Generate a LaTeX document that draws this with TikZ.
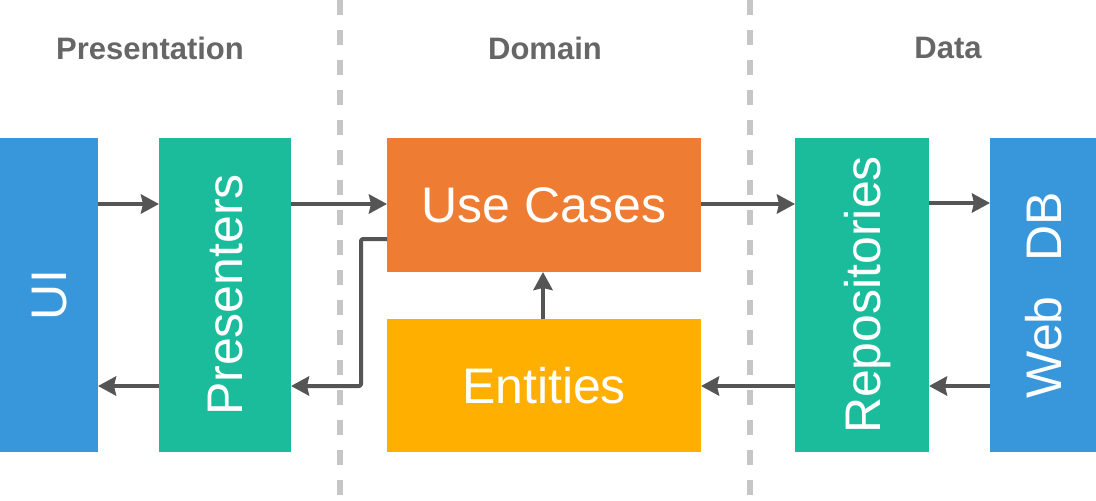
\documentclass[tikz,border=0pt]{standalone}
\usepackage{fontspec}
\setmainfont{Liberation Sans}
\usetikzlibrary{arrows.meta}
\definecolor{cblue}{HTML}{3897DB}
\definecolor{cteal}{HTML}{1ABC9C}
\definecolor{corange}{HTML}{EE7D33}
\definecolor{cyellow}{HTML}{FFAF00}
\definecolor{carrow}{HTML}{555555}
\definecolor{cdash}{HTML}{C6C6C6}
\definecolor{chead}{HTML}{666666}
\begin{document}
\begin{tikzpicture}[x=1pt,y=-1pt,
  box/.style={draw=none, inner sep=0pt, outer sep=0pt, anchor=north west},
  lbl/.style={inner sep=0pt, text=white, text depth=0pt, font=\fontsize{50}{60}\selectfont},
  hdr/.style={inner sep=0pt, text=chead, text depth=0pt, font=\bfseries\fontsize{31}{36}\selectfont},
  sep/.style={draw=cdash, line width=6pt, dash pattern=on 15pt off 15pt},
  arr/.style={draw=carrow, line width=4pt, -{Stealth[length=18pt,width=19pt,inset=2pt]}, line join=round}
]
\useasboundingbox (0,0) rectangle (1096,501);
\fill[white] (0,0) rectangle (1096,501);

% separators
\draw[sep] (340,0) -- (340,501);
\draw[sep] (750,0) -- (750,501);

% headers
\node[hdr] (h1) at (150,48) {Presentation};
\node[hdr] (h2) at (545,48) {Domain};
\node[hdr] (h3) at (948,48) {Data};

% boxes
\node[box, fill=cblue, minimum width=98pt, minimum height=314pt] (ui) at (0,138) {};
\node[box, fill=cteal, minimum width=132pt, minimum height=314pt] (pres) at (159,138) {};
\node[box, fill=corange, minimum width=314pt, minimum height=134pt] (uc) at (387,138) {};
\node[box, fill=cyellow, minimum width=314pt, minimum height=133pt] (ent) at (387,319) {};
\node[box, fill=cteal, minimum width=134pt, minimum height=314pt] (repo) at (795,138) {};
\node[box, fill=cblue, minimum width=106pt, minimum height=314pt] (web) at (990,138) {};

% labels
\node[lbl, rotate=90] (tui) at (ui.center) {UI};
\node[lbl, rotate=90] (tpres) at (pres.center) {Presenters};
\node[lbl] (tuc) at (uc.center) {Use Cases};
\node[lbl] (tent) at (ent.center) {Entities};
\node[lbl, rotate=90] (trepo) at (repo.center) {Repositories};
\node[lbl, rotate=90] (tweb) at (web.center) {Web\hspace{35pt}DB};

% arrows
\draw[arr] (ui.east |- 0,204) -- (pres.west |- 0,204);
\draw[arr] (pres.east |- 0,204) -- (uc.west |- 0,204);
\draw[arr] (uc.east |- 0,204) -- (repo.west |- 0,204);
\draw[arr] (repo.east |- 0,203) -- (web.west |- 0,203);
\draw[arr] (web.west |- 0,386) -- (repo.east |- 0,386);
\draw[arr] (repo.west |- 0,386) -- (ent.east |- 0,386);
\draw[arr] (ent.north -| 543,0) -- (uc.south -| 543,0);
\coordinate (elb) at (361,239);
\draw[arr, rounded corners=2pt] (uc.west |- elb) -- (elb) |- (pres.east |- 0,386);
\draw[arr] (pres.west |- 0,386) -- (ui.east |- 0,386);
\end{tikzpicture}
\end{document}
